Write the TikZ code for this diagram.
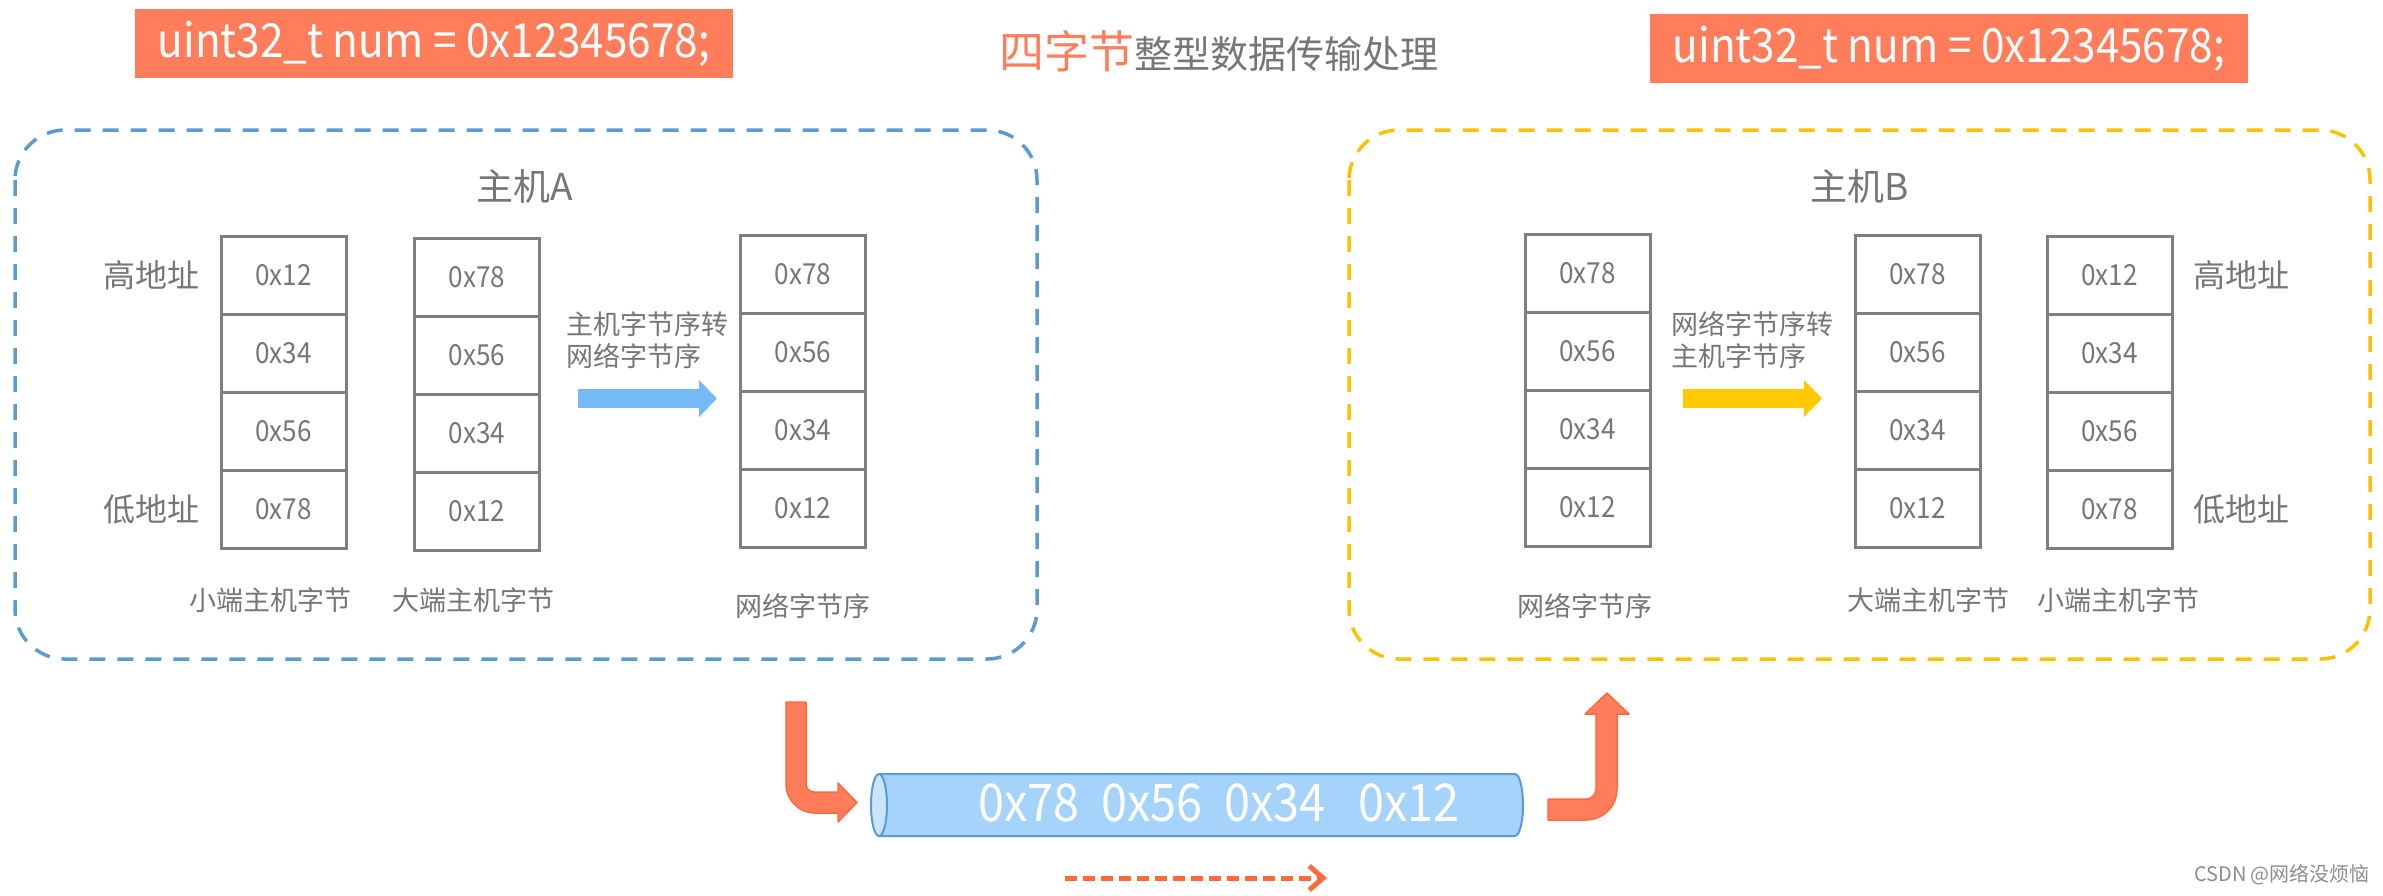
\documentclass[tikz,border=0pt]{standalone}
\usepackage{fontspec}
\setmainfont{Noto Sans CJK SC}
\newfontfamily\hexfont[FakeStretch=0.9]{Noto Sans CJK SC}
\usetikzlibrary{arrows.meta,calc,positioning}
\definecolor{tagorange}{HTML}{FF7D5A}
\definecolor{flowred}{HTML}{FF6A3D}
\definecolor{txtgray}{HTML}{767676}
\definecolor{boxgray}{HTML}{7F7F7F}
\definecolor{wmgray}{HTML}{8C8C8C}
\definecolor{hostblue}{HTML}{5B9BD5}
\definecolor{arrowblue}{HTML}{75B9F6}
\definecolor{hostyellow}{HTML}{FFC000}
\definecolor{arrowyellow}{HTML}{FFC800}
\definecolor{pipeblue}{HTML}{A6D3FB}
\definecolor{pipeend}{HTML}{C9E4FC}

\begin{document}
\begin{tikzpicture}[x=1pt,y=-1pt, every node/.style={text=txtgray,inner sep=0pt},
    cell/.style={draw=boxgray,line width=3pt,minimum width=125pt,minimum height=78pt,font=\hexfont\fontsize{29}{34}\selectfont},
    tag/.style={fill=tagorange,text=white,minimum width=598pt,minimum height=69pt,font=\hexfont\fontsize{47}{56}\selectfont},
    lbl/.style={font=\fontsize{27}{32}\selectfont},
    addr/.style={font=\fontsize{32}{38}\selectfont},
    host/.style={rounded corners=50pt,line width=3.5pt,dash pattern=on 16pt off 12pt},
    bentarrow/.style={fill=tagorange,draw=flowred,line width=1.5pt,line join=round}]
  \useasboundingbox (0,0) rectangle (2383,895);
  \node[tag] (numA) at (434,43.5) {uint32\_t num = 0x12345678;};
  \node[tag] (numB) at (1949,48.5) {uint32\_t num = 0x12345678;};
  \node[anchor=base west] (title) at (999,68) {{\color{tagorange}\fontsize{45}{54}\selectfont 四字节}\fontsize{38}{46}\selectfont 整型数据传输处理};
  \draw[host,draw=hostblue] (15,130) rectangle (1037,659);
  \draw[host,draw=hostyellow] (1349,130) rectangle (2370,659);
  \node[font=\fontsize{37}{44}\selectfont] (hostA) at (525,186) {主机A};
  \node[font=\fontsize{37}{44}\selectfont] (hostB) at (1860,186) {主机B};
  \foreach \nm/\cx/\cy/\vals in {la/283.5/236/{0x12,0x34,0x56,0x78},lb/477/238/{0x78,0x56,0x34,0x12},
      ln/803/235/{0x78,0x56,0x34,0x12},rn/1587.5/234/{0x78,0x56,0x34,0x12},
      rb/1917.5/235/{0x78,0x56,0x34,0x12},rl/2109.5/236/{0x12,0x34,0x56,0x78}}
    \foreach \v [count=\i] in \vals
      \node[cell] (\nm\i) at (\cx,\cy+78*\i-39) {\v};
  \node[addr,left=20pt of la1] (hiA) {高地址};
  \node[addr,left=20pt of la4] (loA) {低地址};
  \node[addr,right=20pt of rl1] (hiB) {高地址};
  \node[addr,right=20pt of rl4] (loB) {低地址};
  \node[lbl] (capLa) at (270,600) {小端主机字节};
  \node[lbl] (capLb) at (473,600) {大端主机字节};
  \node[lbl] (capLn) at (803,606) {网络字节序};
  \node[lbl] (capRn) at (1585,606) {网络字节序};
  \node[lbl] (capRb) at (1928,600) {大端主机字节};
  \node[lbl] (capRl) at (2118,600) {小端主机字节};
  \node[lbl,anchor=west,align=left] (convA) at (566,340) {主机字节序转\\网络字节序};
  \node[lbl,anchor=west,align=left] (convB) at (1671,340) {网络字节序转\\主机字节序};
  \coordinate (convA-s) at (578,398.5);
  \coordinate (convA-e) at (717,398.5);
  \coordinate (convB-s) at (1683,398.5);
  \coordinate (convB-e) at (1822,398.5);
  \draw[arrowblue,line width=19pt,-{Triangle[length=18pt,width=36pt]}] (convA-s) -- (convA-e);
  \draw[arrowyellow,line width=19pt,-{Triangle[length=18pt,width=36pt]}] (convB-s) -- (convB-e);
  \filldraw[bentarrow] (786,702) -- (806,702) -- (806,784) arc[start angle=180,end angle=90,radius=8] -- (838,792) -- (838,783)
    -- (857,802.5) -- (838,822) -- (838,813) -- (815,813) arc[start angle=90,end angle=180,radius=29] -- cycle;
  \filldraw[bentarrow] (1548,799) -- (1586,799) arc[start angle=90,end angle=0,radius=10] -- (1596,714) -- (1585,714)
    -- (1607,693) -- (1629,714) -- (1617,714) -- (1617,789) arc[start angle=0,end angle=90,radius=31] -- (1548,820) -- cycle;
  \filldraw[fill=pipeblue,draw=hostblue,line width=2pt] (879,774) -- (1515,774)
    arc[start angle=-90,end angle=90,x radius=8,y radius=31] -- (879,836) -- cycle;
  \filldraw[fill=pipeend,draw=hostblue,line width=2pt] (879,805) ellipse [x radius=8,y radius=31];
  \foreach \v/\px in {0x78/1029,0x56/1152,0x34/1275,0x12/1409}
    \node[text=white,font=\hexfont\fontsize{52}{60}\selectfont] (p\v) at (\px,803) {\v};
  \coordinate (flow-s) at (1065,878);
  \coordinate (flow-e) at (1327,878);
  \draw[flowred,line width=5pt,dash pattern=on 12pt off 6pt,-{Straight Barb[length=14pt,width=24pt]}] (flow-s) -- (flow-e);
  \node[text=wmgray,font=\fontsize{20}{24}\selectfont] (mark) at (2282,875) {CSDN @网络没烦恼};
\end{tikzpicture}
\end{document}
